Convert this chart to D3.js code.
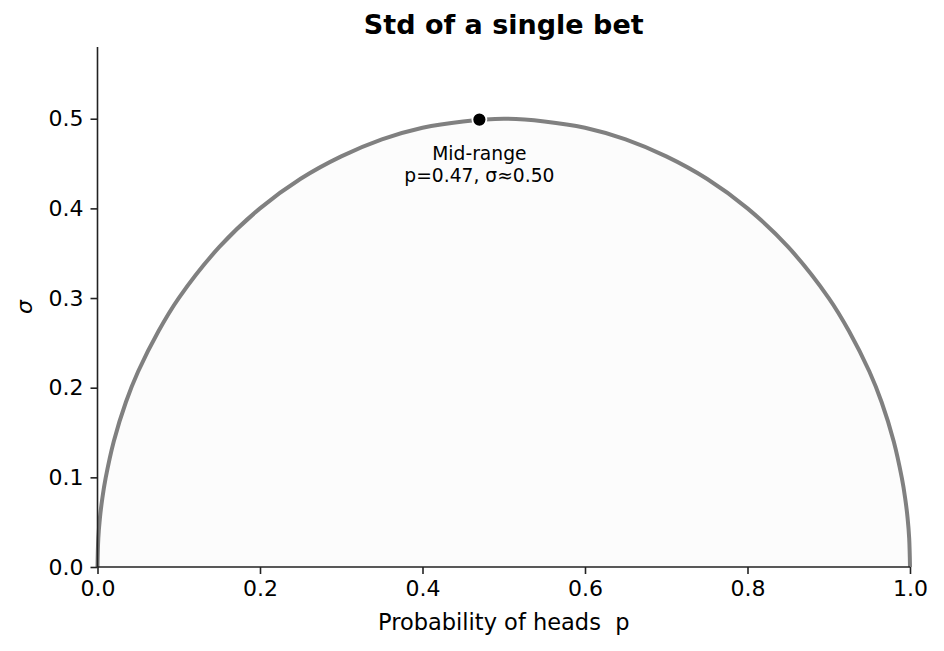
<!DOCTYPE html>
<html>
<head>
    <meta charset='utf-8'>
</head>
<style>
    body { margin: 0; background: #fff; }
    text { font-family: 'DejaVu Sans', sans-serif; fill: #000; white-space: pre; }
</style>
<body>
    <svg width="944" height="651"></svg>
    <script src="https://d3js.org/d3.v7.min.js"></script>
    <script>
        // values
        var pValues = [0, 0.001, 0.003, 0.006, 0.01, 0.02, 0.035, 0.05, 0.075, 0.1, 0.15, 0.2, 0.25, 0.3,
            0.35, 0.4, 0.45, 0.5, 0.55, 0.6, 0.65, 0.7, 0.75, 0.8, 0.85, 0.9, 0.925, 0.95, 0.965,
            0.98, 0.99, 0.994, 0.997, 0.999, 1];
        var sigmaValues = [0, 0.032, 0.055, 0.077, 0.099, 0.140, 0.184, 0.218, 0.263, 0.300, 0.357, 0.400,
            0.433, 0.458, 0.477, 0.490, 0.497, 0.500, 0.497, 0.490, 0.477, 0.458, 0.433, 0.400, 0.357,
            0.300, 0.263, 0.218, 0.184, 0.140, 0.099, 0.077, 0.055, 0.032, 0];
        var xTicks = [0, 0.2, 0.4, 0.6, 0.8, 1.0];
        var yTicks = [0, 0.1, 0.2, 0.3, 0.4, 0.5];
        var marker = { p: 0.47, sigma: 0.499 };
        var markerLabel = ["Mid-range", "p=0.47, σ≈0.50"];

        var svg = d3.select('svg');
        var mLeft = 97.5, mRight = 910, mTop = 47, mBottom = 567;

        var x = d3.scaleLinear().domain([0, 1]).range([mLeft, mRight]);
        var y = d3.scaleLinear().domain([0, 0.58]).range([mBottom, mTop]);

        var data = pValues.map(function(p, i) {
            return { p: p, s: sigmaValues[i] };
        });
        var curve = d3.curveCatmullRom.alpha(0.5);

        // light fill under the curve
        svg.append('path')
            .datum(data)
            .attr('fill', '#fcfcfc')
            .attr('d', d3.area()
                .x(function(d) { return x(d.p); })
                .y0(y(0))
                .y1(function(d) { return y(d.s); })
                .curve(curve));

        svg.append('path')
            .datum(data)
            .attr('fill', 'none')
            .attr('stroke', '#808080')
            .attr('stroke-width', 4)
            .attr('d', d3.line()
                .x(function(d) { return x(d.p); })
                .y(function(d) { return y(d.s); })
                .curve(curve));

        // axes
        var xAxis = svg.append('g')
            .attr('transform', 'translate(0,' + mBottom + ')')
            .call(d3.axisBottom(x).tickValues(xTicks).tickFormat(d3.format('.1f'))
                .tickSize(7).tickPadding(6));
        var yAxis = svg.append('g')
            .attr('transform', 'translate(' + mLeft + ',0)')
            .call(d3.axisLeft(y).tickValues(yTicks).tickFormat(d3.format('.1f'))
                .tickSize(7).tickPadding(7));
        [xAxis, yAxis].forEach(function(a) {
            a.selectAll('.domain').attr('stroke', '#222').attr('stroke-width', 1.6);
            a.selectAll('.tick line').attr('stroke', '#222').attr('stroke-width', 1.6);
            a.selectAll('.tick text').style('font-size', '22px').attr('fill', '#000');
        });
        xAxis.select('.domain').attr('d', 'M' + mLeft + ',0H' + mRight);
        yAxis.select('.domain').attr('d', 'M0,' + mBottom + 'V' + mTop);

        // marker point + annotation
        svg.append('circle')
            .attr('cx', x(marker.p))
            .attr('cy', y(marker.sigma))
            .attr('r', 7)
            .attr('fill', '#000')
            .attr('stroke', '#fff')
            .attr('stroke-width', 1.8);

        svg.append('text')
            .attr('x', x(marker.p))
            .attr('y', 160)
            .attr('text-anchor', 'middle')
            .style('font-size', '18.7px')
            .text(markerLabel[0]);
        svg.append('text')
            .attr('x', x(marker.p))
            .attr('y', 182)
            .attr('text-anchor', 'middle')
            .style('font-size', '18.7px')
            .text(markerLabel[1]);

        // titles
        svg.append('text')
            .attr('x', (mLeft + mRight) / 2)
            .attr('y', 34)
            .attr('text-anchor', 'middle')
            .style('font-size', '27px')
            .style('font-weight', 'bold')
            .text('Std of a single bet');

        svg.append('text')
            .attr('x', (mLeft + mRight) / 2)
            .attr('y', 630)
            .attr('text-anchor', 'middle')
            .style('font-size', '22.5px')
            .text('Probability of heads  p');

        svg.append('text')
            .attr('transform', 'translate(32,' + y(0.29) + ') rotate(-90)')
            .attr('text-anchor', 'middle')
            .style('font-size', '22px')
            .style('font-style', 'italic')
            .text('σ');
    </script>
</body>
</html>
